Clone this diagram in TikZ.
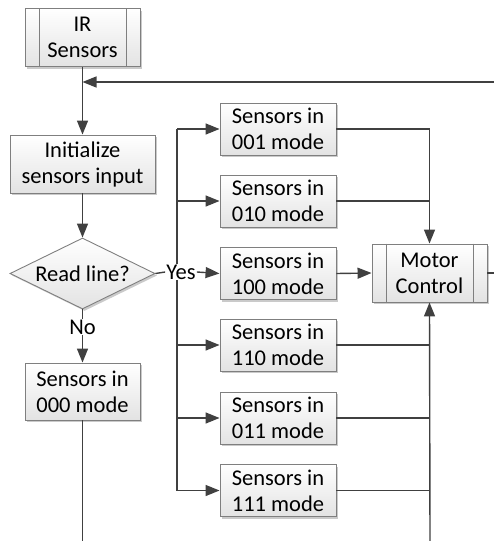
\documentclass[tikz,border=0pt]{standalone}
\usepackage{fontspec}
\setmainfont{Carlito}
\usetikzlibrary{shapes.geometric,shadows,arrows.meta,calc}
\definecolor{lineC}{HTML}{404040}
\definecolor{boxC}{HTML}{7F7F7F}
\tikzset{
  boxbase/.style={draw=boxC, line width=0.9pt, top color=white, bottom color=black!11,
    drop shadow={shadow xshift=2pt, shadow yshift=-2pt, fill=black!35, opacity=0.6},
    align=center, inner sep=0pt, font=\fontsize{22.5}{26}\selectfont},
  procbox/.style={boxbase, rectangle, minimum width=116pt, minimum height=52pt},
  sub/.style={boxbase, rectangle, minimum width=115pt, minimum height=58pt},
  decis/.style={boxbase, diamond, minimum width=145pt, minimum height=71pt},
  txt/.style={inner sep=0pt, font=\fontsize{22.5}{26}\selectfont},
  lbl/.style={fill=white, inner sep=1pt, font=\fontsize{22.5}{26}\selectfont},
  conn/.style={draw=lineC, line width=1.4pt},
  arr/.style={conn, -{Triangle[length=14pt,width=11pt]}},
  subline/.style={draw=boxC, line width=0.9pt},
}
\begin{document}
\begin{tikzpicture}[x=1pt,y=-1pt]
\useasboundingbox (0,0) rectangle (494,541);
% coordinates for free ends and joins
\coordinate (topR) at (494,82);
\coordinate (topJ) at (82.5,82);
\coordinate (botL) at (82.5,541);
\coordinate (busT) at (177,129);
\coordinate (busB) at (177,490.5);
\coordinate (rbB) at (430,541);
\coordinate (mcR) at (494,273);
% connectors drawn first (under nodes)
\path[conn] (busT) -- (busB);
% left column
\node[sub] (ir) at (82.5,37.5) {IR\\Sensors};
\path[subline] ($(ir.north west)+(15,0)$) -- ($(ir.south west)+(15,0)$)
  ($(ir.north east)+(-14,0)$) -- ($(ir.south east)+(-14,0)$);
\node[boxbase, rectangle, minimum width=145pt, minimum height=58pt] (init) at (82.5,164) {Initialize\\sensors input};
\node[decis] (dia) at (82.5,273.5) {};
\node[txt] (diat) at (dia) {Read line?};
\node[procbox, minimum width=115pt, minimum height=57pt] (b000) at (82.5,391.5) {Sensors in\\000 mode};
% right column
\node[procbox] (b001) at (278,129) {Sensors in\\001 mode};
\node[procbox] (b010) at (278,201) {Sensors in\\010 mode};
\node[procbox] (b100) at (278,273.5) {Sensors in\\100 mode};
\node[procbox] (b110) at (278,345) {Sensors in\\110 mode};
\node[procbox] (b011) at (278,418) {Sensors in\\011 mode};
\node[procbox] (b111) at (278,490.5) {Sensors in\\111 mode};
\node[sub] (mc) at (429.5,273) {Motor\\Control};
\path[subline] ($(mc.north west)+(15,0)$) -- ($(mc.south west)+(15,0)$)
  ($(mc.north east)+(-14,0)$) -- ($(mc.south east)+(-14,0)$);
% labels
\node[lbl] (yes) at (181,272) {Yes};
\node[lbl] (no) at (82.5,327) {No};
% left flow
\path[arr] (ir) -- (init);
\path[arr] (topR) -- (topJ);
\path[arr] (init) -- (dia);
\path[conn] (dia.south) -- (no);
\path[arr] (no) -- (b000);
\path[conn] (b000) -- (botL);
\path[conn] (dia.east) -- (yes.west);
\path[arr] (yes.east) -- (b100.west);
% bus branches
\path[arr] (busT) -- (b001.west);
\path[arr] (busT |- b010) -- (b010.west);
\path[arr] (busT |- b110) -- (b110.west);
\path[arr] (busT |- b011) -- (b011.west);
\path[arr] (busB) -- (b111.west);
% right merges
\path[arr] (b001.east) -| (mc.north);
\path[conn] (b010.east) -- (b010.east -| mc.north);
\path[arr] (b100.east) -- (mc.west);
\path[arr] (rbB) -- (mc.south);
\path[conn] (b110.east) -- (b110.east -| rbB);
\path[conn] (b011.east) -- (b011.east -| rbB);
\path[conn] (b111.east) -- (b111.east -| rbB);
\path[conn] (mc.east) -- (mcR);
\end{tikzpicture}
\end{document}
